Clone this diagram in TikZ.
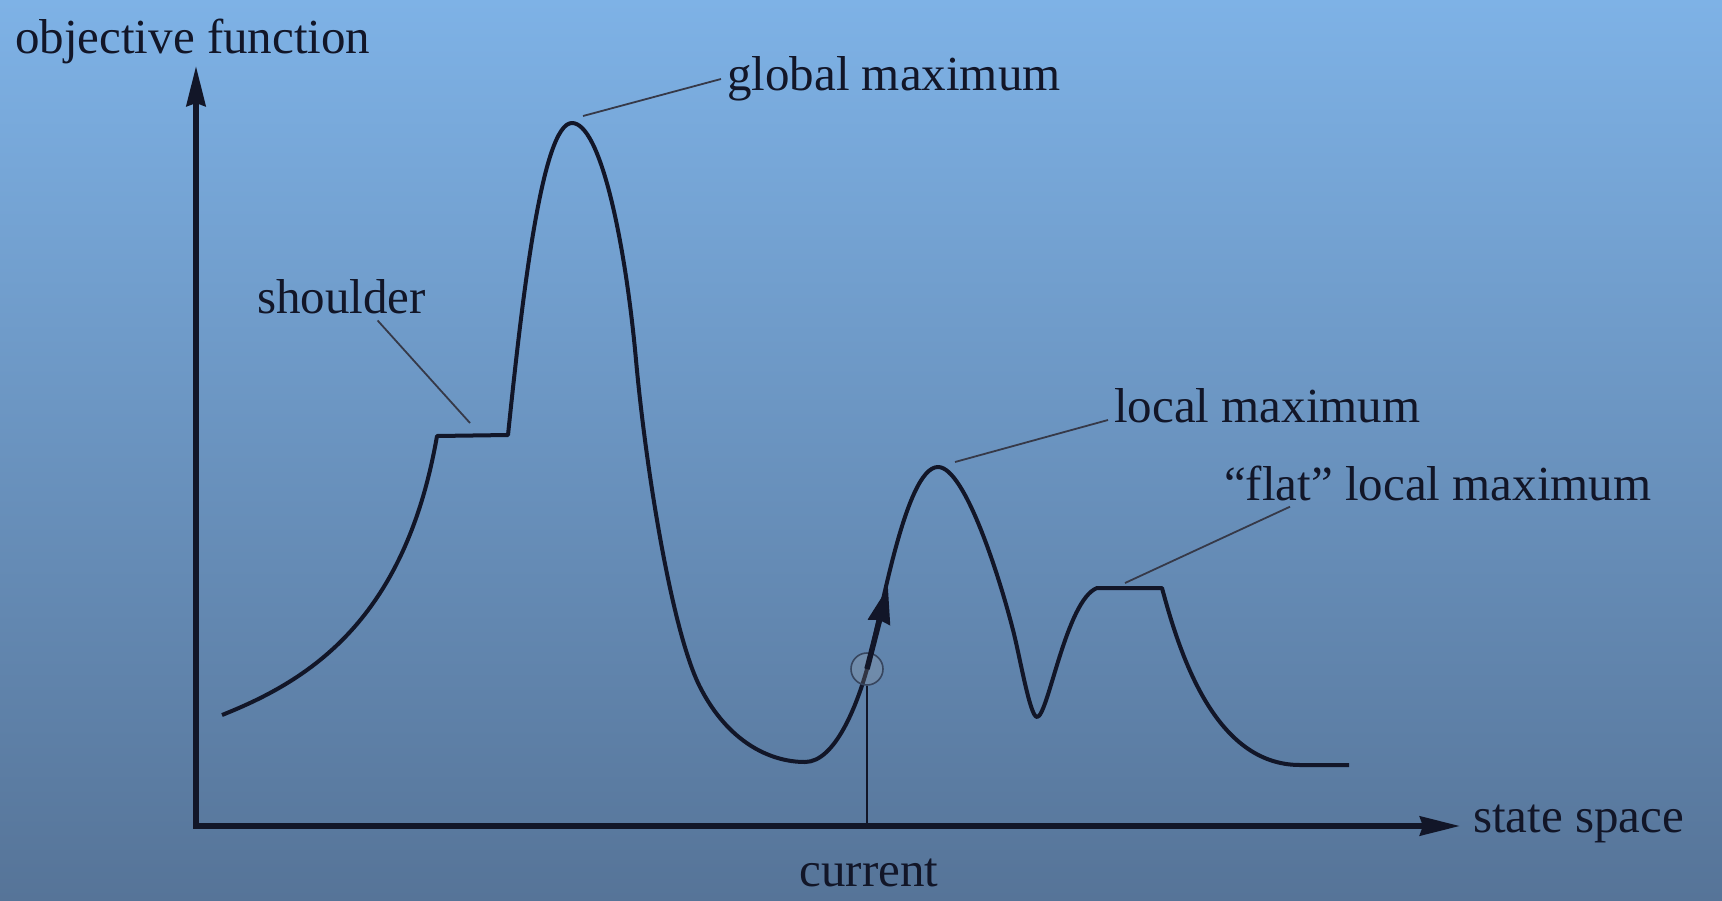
\documentclass[tikz,border=0pt]{standalone}
\usepackage{fontspec}
\setmainfont{Liberation Serif}
\usepackage{xcolor}
\definecolor{ink}{RGB}{18,22,40}
\definecolor{ringc}{RGB}{55,70,95}
\definecolor{bgtop}{RGB}{126,178,230}
\definecolor{bgbot}{RGB}{86,116,152}
\usetikzlibrary{arrows.meta,positioning}
\tikzset{
  axis/.style={line width=5.5pt,draw=ink,line join=miter,%
    {Stealth[length=40pt,width=19pt,inset=3pt]}-{Stealth[length=40pt,width=19pt,inset=3pt]}},
  curve/.style={line width=4pt,draw=ink,line join=round},
  leader/.style={line width=1.8pt,draw=ink!85},
  lbl/.style={font=\fontsize{49}{58}\selectfont,text=ink,inner sep=6pt},
  probe/.style={circle,minimum size=32pt,inner sep=0pt,draw=ringc,line width=1.6pt,%
    fill=gray!70,fill opacity=0.22,draw opacity=1},
  pointer/.style={line width=2.2pt,draw=ink},
  move/.style={line width=5.5pt,draw=ink,-{Stealth[length=36pt,width=22pt,inset=2pt]}},
}
\begin{document}
\begin{tikzpicture}[x=1pt,y=-1pt]
\shade[top color=bgtop,bottom color=bgbot] (0,0) rectangle (1722,900);
\useasboundingbox (0,0) rectangle (1722,900);
% axes
\coordinate (O) at (196,826);
\coordinate (ytip) at (196,66);
\coordinate (xtip) at (1460,826);
\draw[axis] (ytip) -- (O) -- (xtip);
\node[lbl,anchor=west] (yname) at (9,41) {objective function};
\node[lbl,anchor=west] (xname) at (1467,824) {state space};
% landscape
\draw[curve] (222,715) .. controls (310,680) and (405,620) .. (437,436) -- (508,435)
  .. controls (522,300) and (542,123) .. (572,123)
  .. controls (600,123) and (625,239) .. (636,360)
  .. controls (646,470) and (672,632) .. (700,687)
  .. controls (728,742) and (770,762) .. (805,762)
  .. controls (835,762) and (857,705) .. (867,669)
  .. controls (880,622) and (905,467) .. (938,467)
  .. controls (965,467) and (1000,579) .. (1013,630)
  .. controls (1020,657) and (1030,717) .. (1037,717)
  .. controls (1048,717) and (1066,600) .. (1097,588)
  -- (1162,588)
  .. controls (1180,655) and (1215,765) .. (1300,765) -- (1349,765);
% labels
\node[lbl,anchor=west] (glob) at (721,79) {global maximum};
\node[lbl,anchor=west] (shld) at (251,297) {shoulder};
\node[lbl,anchor=west] (lmax) at (1108,406) {local maximum};
\node[lbl,anchor=west] (flat) at (1218,483) {“flat” local maximum};
\coordinate (gtop) at (583,116);
\coordinate (stop) at (470,423);
\coordinate (ltop) at (955,462);
\coordinate (ftop) at (1125,583);
\draw[leader] (gtop) -- (glob.west);
\draw[leader] (stop) -- ([xshift=36pt]shld.south);
\draw[leader] (ltop) -- ([yshift=-14pt]lmax.west);
\draw[leader] (ftop) -- ([xshift=72pt]flat.south west);
% current state
\node[probe] (now) at (867,669) {};
\coordinate (mtip) at (888,587);
\node[lbl] (cur) at (869,873) {current};
\draw[pointer] (now.south) -- (now.south |- O);
\draw[move] (now.center) -- (mtip);
\end{tikzpicture}
\end{document}
